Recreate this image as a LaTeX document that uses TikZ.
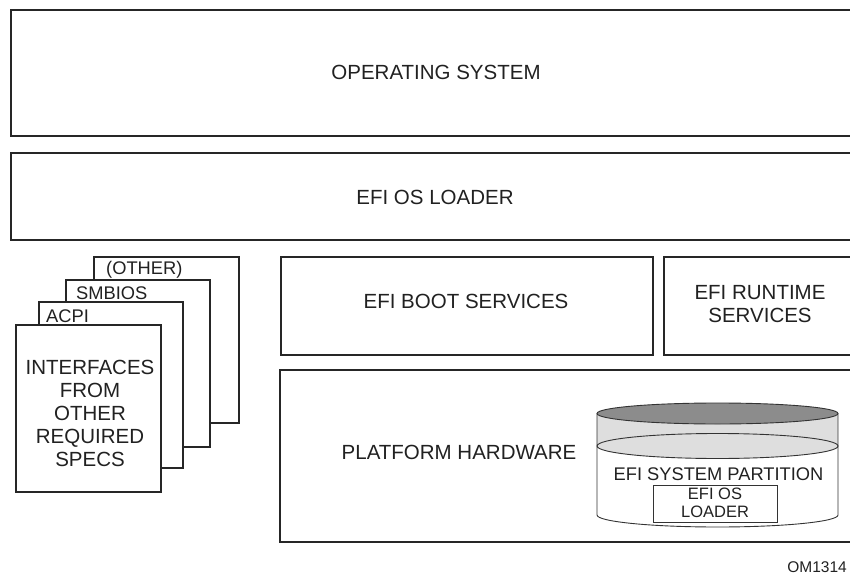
\documentclass[tikz,border=0pt]{standalone}
\usepackage{fontspec}
\setmainfont{Liberation Sans}
\usepackage{tikz}

\definecolor{diskdark}{HTML}{8C8C8C}
\definecolor{disklight}{HTML}{DEDEDE}

\tikzset{
  layer/.style={draw=black!85, line width=2.6pt},
  sheet/.style={draw=black!85, line width=2.2pt, fill=white},
  disk/.style={draw=black!80, line width=0.9pt},
  big/.style={font=\fontsize{20.5}{23}\selectfont, text=black!87, inner sep=0pt, align=center},
  small/.style={font=\fontsize{18.3}{18}\selectfont, text=black!87, inner sep=0pt, align=center},
}

\begin{document}
\begin{tikzpicture}[x=1pt,y=-1pt]
    \useasboundingbox (0,0) rectangle (850,577);
    \clip (0,0) rectangle (850,577);

    % Layers
    \draw [layer] (11,10) rectangle (862,136);
    \draw [layer] (11,153) rectangle (862,240);
    \draw [layer] (281,257) rectangle (653,355);
    \draw [layer] (664,257) rectangle (862,355);
    \draw [layer] (280,370) rectangle (862,542);

    \node [big] (os) at (436,72) {OPERATING SYSTEM};
    \node [big] (loader) at (435,197) {EFI OS LOADER};
    \node [big] (boot) at (466,301.5) {EFI BOOT SERVICES};
    \node [big, text depth=0pt] (runtime) at (760,304) {EFI RUNTIME\\SERVICES};
    \node [big] (hw) at (459,452.5) {PLATFORM HARDWARE};

    % Stack of specs
    \draw [sheet] (94,257) rectangle (239,423);
    \draw [sheet] (66,280) rectangle (210,447);
    \draw [sheet] (39,302) rectangle (183,468);
    \draw [sheet] (16,325) rectangle (161,492);

    \node [small, anchor=west] (other) at (106,270) {(OTHER)};
    \node [small, anchor=west] (smbios) at (76,293.5) {SMBIOS};
    \node [small, anchor=west] (acpi) at (46,316.5) {ACPI};
    \node [big] (specs) at (90,413.5) {INTERFACES\\FROM\\OTHER\\REQUIRED\\SPECS};

    % System partition (disk)
    \fill [disklight] (597,413.5) rectangle (838,446);
    \draw [disk, fill=disklight] (717.5,446) ellipse [x radius=120.5pt, y radius=12.5pt];
    \draw [disk] (597,413.5) -- (597,515)
        arc [start angle=180, end angle=360, x radius=120.5pt, y radius=12pt] -- (838,413.5);
    \draw [disk, fill=diskdark] (717.5,413.5) ellipse [x radius=120.5pt, y radius=10.5pt];

    \node [small] (esp) at (718.5,474) {EFI SYSTEM PARTITION};
    \draw [disk, line width=0.8pt] (653,485) rectangle (777,522);
    \node [small, font=\fontsize{16.5}{18}\selectfont] (osl) at (715,503) {EFI OS\\LOADER};

    % Figure tag
    \node [font=\fontsize{15.5}{16}\selectfont, text=black!87, inner sep=0pt, anchor=east] (tag) at (847,567) {OM1314};
\end{tikzpicture}
\end{document}
